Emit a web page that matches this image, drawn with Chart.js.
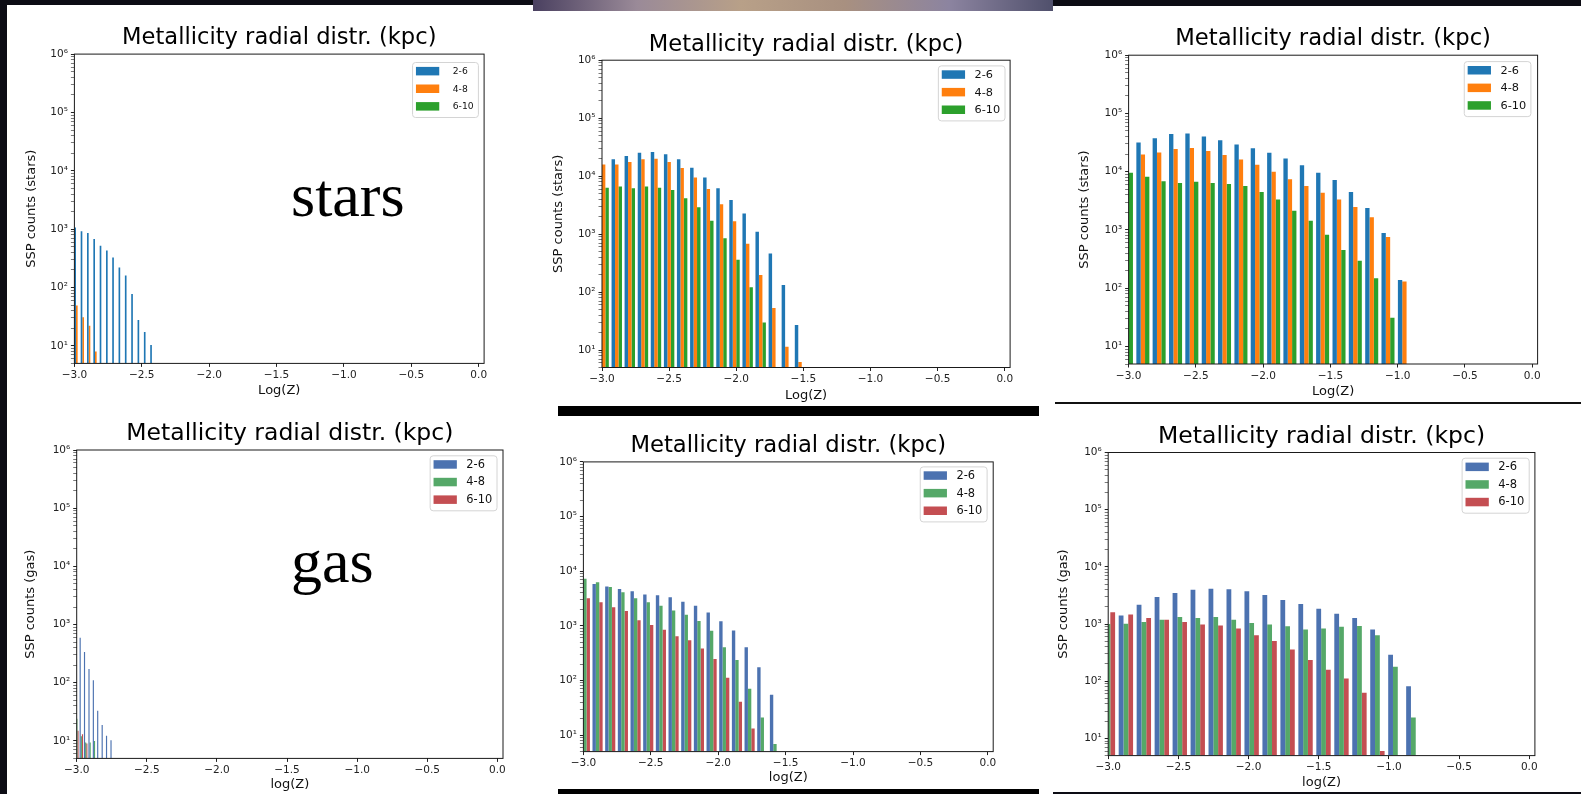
<!DOCTYPE html>
<html>
<head>
<meta charset="utf-8">
<script src="https://cdn.jsdelivr.net/npm/chart.js@4.4.1/dist/chart.umd.min.js"></script>
<style>
  html, body { margin: 0; padding: 0; }
  body { width: 1581px; height: 794px; position: relative; overflow: hidden; background: #0c0c14; }
  .sheet { position: absolute; background: #fff; }
  .band { position: absolute; background: #000; }
  canvas { position: absolute; }
  .tag { position: absolute; font-family: "Liberation Serif", serif; font-size: 62px; line-height: 62px; color: #000; }
</style>
</head>
<body>
<div class="sheet" style="left:7px;top:5px;width:526px;height:789px"></div>
<div class="sheet" style="left:533px;top:11px;width:520px;height:783px"></div>
<div class="sheet" style="left:1053px;top:6px;width:528px;height:786px"></div>
<div style="position:absolute;left:533px;top:0;width:520px;height:11px;background:linear-gradient(90deg,#4a4060,#9a8a98,#b8a088,#a89080,#8c84a0,#50506c)"></div>
<div class="band" style="left:558px;top:406px;width:481px;height:9.5px"></div>
<div class="band" style="left:558px;top:788.5px;width:481px;height:6px"></div>
<div class="band" style="left:1055px;top:401.5px;width:526px;height:2px;background:#111"></div>
<div class="tag" style="left:291px;top:164px">stars</div>
<div class="tag" style="left:291px;top:530px">gas</div>

<script>
// bin centres in log(Z) and SSP counts per radial ring (kpc)
// stars, left panel
const zStarsA = [-2.982, -2.935, -2.888, -2.841, -2.794, -2.747, -2.701, -2.654, -2.607, -2.560, -2.513, -2.466, -2.419];
const starsA26 = [1070, 917, 861, 677, 519, 430, 325, 221, 160, 77, 27.6, 17.3, 10.3];
const starsA48 = [49, 31, 22, 8, null, null, null, null, null, null, null, null, null];
const starsA610 = [null, null, null, null, null, null, null, null, null, null, null, null, null];

// stars, middle panel
const zStarsB = [-2.988, -2.890, -2.793, -2.695, -2.598, -2.500, -2.403, -2.305, -2.208, -2.110, -2.013, -1.915, -1.818, -1.720, -1.623, -1.525];
const starsB26 = [null, 19500, 22300, 25200, 26200, 23900, 19500, 13960, 9490, 6170, 3860, 2260, 1100, 465, 132, 27];
const starsB48 = [15800, 15900, 17500, 19500, 20000, 17500, 13800, 9490, 6000, 3290, 1660, 680, 198, 53, 11.4, 6.2];
const starsB610 = [6320, 6600, 6170, 6600, 6320, 5770, 4170, 2920, 1700, 850, 360, 121, 30, null, null, null];

// stars, right panel
const zStarsC = [-3.016, -2.894, -2.773, -2.651, -2.530, -2.408, -2.287, -2.165, -2.044, -1.922, -1.801, -1.679, -1.558, -1.436, -1.315, -1.193, -1.072, -0.950];
const starsC26 = [null, 31600, 37600, 44200, 45400, 40300, 34700, 29200, 25200, 21200, 16900, 12900, 9620, 7170, 4480, 2390, 887, 138];
const starsC48 = [null, 19800, 21400, 24500, 25500, 22600, 19300, 16200, 13100, 10000, 7450, 5700, 4370, 3340, 2480, 1660, 755, 131];
const starsC610 = [9620, 8190, 6870, 6430, 6700, 6430, 6170, 5700, 4480, 3340, 2140, 1440, 830, 454, 295, 148, 31, null];

// gas, left panel
const zGasA = [-2.999, -2.967, -2.936, -2.904, -2.873, -2.842, -2.810, -2.779, -2.747];
const gasA26 = [null, 590, 336, 172, 110, 33, 18.7, 12.2, 10.3];
const gasA48 = [24, 12, 9.4, 9.4, 10, null, null, null, null];
const gasA610 = [15, 13, 9, null, null, null, null, null, null];

// gas, middle panel
const zGasB = [-2.989, -2.895, -2.801, -2.707, -2.613, -2.519, -2.425, -2.331, -2.237, -2.143, -2.049, -1.955, -1.861, -1.767, -1.673, -1.579];
const gasB26 = [null, 5820, 5270, 4700, 4310, 3740, 3630, 3340, 2770, 2340, 1750, 1210, 824, 404, 174, 54.7];
const gasB48 = [7310, 6250, 5120, 4130, 3200, 2690, 2340, 1910, 1590, 1230, 813, 404, 238, 70.6, 21, 6.9];
const gasB610 = [3200, 2690, 2200, 1860, 1260, 1035, 848, 646, 545, 386, 248, 112, 41, 13.3, null, null];

// gas, right panel
const zGasC = [-3.002, -2.874, -2.746, -2.618, -2.490, -2.362, -2.234, -2.106, -1.978, -1.850, -1.722, -1.594, -1.466, -1.338, -1.210, -1.082, -0.954, -0.826];
const gasC26 = [null, 1406, 2170, 2970, 3500, 3960, 4120, 4070, 3750, 3230, 2630, 2230, 1850, 1510, 1280, 804, 290, 81.5];
const gasC48 = [1000, 1010, 1090, 1190, 1330, 1280, 1330, 1190, 1040, 986, 910, 804, 837, 898, 921, 638, 179, 23.3];
const gasC610 = [1610, 1470, 1280, 1190, 1090, 986, 947, 837, 638, 506, 360, 236, 159, 111, 63, 6.0, null, null];

const rings = ['2-6', '4-8', '6-10'];
const zTicks = [-3.0, -2.5, -2.0, -1.5, -1.0, -0.5, 0.0];
const countDecades = [1e1, 1e2, 1e3, 1e4, 1e5, 1e6];

const starColors = ['#1f77b4', '#ff7f0e', '#2ca02c'];
const gasColors = ['#4c72b0', '#55a868', '#c44e52'];
const FONT = "'DejaVu Sans', sans-serif";
const SUP = {1: '\u00b9', 2: '\u00b2', 3: '\u00b3', 4: '\u2074', 5: '\u2075', 6: '\u2076'};

const panels = [
  {box: [8, 5, 525, 400], plot: [74.4, 54.1, 484.1, 363.4], yGap: 42.4, xGap: 27.5, title: 22.6,
   xLabel: 'Log(Z)', yLabel: 'SSP counts (stars)', legend: {size: 9.2, gap: 13.5, dx: 5.7, dy: 8.4},
   bins: zStarsA, series: [starsA26, starsA48, starsA610], colors: starColors},
  {box: [533, 11, 520, 400], plot: [602.0, 60.2, 1010.1, 367.5], yGap: 43.3, xGap: 28.0, title: 22.6,
   xLabel: 'Log(Z)', yLabel: 'SSP counts (stars)', legend: {size: 11.3, gap: 9.5, dx: 5.1, dy: 5.7},
   bins: zStarsB, series: [starsB26, starsB48, starsB610], colors: starColors},
  {box: [1053, 6, 528, 400], plot: [1128.6, 55.2, 1537.6, 364.0], yGap: 43.7, xGap: 27.5, title: 22.7,
   xLabel: 'Log(Z)', yLabel: 'SSP counts (stars)', legend: {size: 11.3, gap: 9.5, dx: 6.7, dy: 6.4},
   bins: zStarsC, series: [starsC26, starsC48, starsC610], colors: starColors},
  {box: [7, 400, 526, 400], plot: [76.7, 450.0, 503.0, 758.4], yGap: 45.6, xGap: 26.5, title: 23.5,
   xLabel: 'log(Z)', yLabel: 'SSP counts (gas)', legend: {size: 11.4, gap: 9.5, dx: 6, dy: 5.8},
   bins: zGasA, series: [gasA26, gasA48, gasA610], colors: gasColors},
  {box: [533, 415, 520, 379], plot: [583.4, 461.9, 993.2, 751.6], yGap: 30, xGap: 26.0, title: 22.7,
   xLabel: 'log(Z)', yLabel: '', legend: {size: 11.4, gap: 9.5, dx: 6.1, dy: 5},
   bins: zGasB, series: [gasB26, gasB48, gasB610], colors: gasColors},
  {box: [1053, 403, 528, 400], plot: [1108.2, 452.5, 1534.9, 755.6], yGap: 44.7, xGap: 27.0, title: 23.5,
   xLabel: 'log(Z)', yLabel: 'SSP counts (gas)', legend: {size: 11.5, gap: 9.5, dx: 5.7, dy: 5.7},
   bins: zGasC, series: [gasC26, gasC48, gasC610], colors: gasColors}
];

function isDecade(v) {
  const e = Math.log10(v);
  return Math.abs(e - Math.round(e)) < 1e-9;
}

// log axis ticks: 10^n labelled, 2..9 x 10^n as minor marks
function countTicks() {
  const out = [];
  countDecades.forEach(d => {
    for (let m = 1; m <= 9; m++) {
      const v = m * d / 10;
      if (v >= 5) out.push({value: v});
    }
  });
  out.push({value: 1e6});
  return out;
}

// axes frame on all four sides, like matplotlib spines
const frame = {
  id: 'frame',
  afterDatasetsDraw(chart) {
    const a = chart.chartArea, ctx = chart.ctx;
    ctx.save();
    ctx.strokeStyle = '#1a1a1a';
    ctx.lineWidth = 1;
    ctx.strokeRect(a.left, a.top, a.right - a.left, a.bottom - a.top);
    ctx.restore();
  }
};

// legend box in the upper right corner of the axes
const boxLegend = {
  id: 'boxLegend',
  afterDraw(chart, args, opts) {
    const a = chart.chartArea, ctx = chart.ctx;
    const sets = chart.data.datasets;
    ctx.save();
    ctx.font = opts.size + 'px ' + FONT;
    const textW = Math.max(...sets.map(d => ctx.measureText(d.label).width));
    const w = 3.4 + 23.3 + opts.gap + textW + 4.8;
    const h = 55;
    const x = a.right - opts.dx - w, y = a.top + opts.dy;
    ctx.fillStyle = 'rgba(255,255,255,0.85)';
    ctx.strokeStyle = '#d4d4d4';
    ctx.lineWidth = 1;
    ctx.beginPath();
    ctx.roundRect(x, y, w, h, 3);
    ctx.fill();
    ctx.stroke();
    ctx.textBaseline = 'middle';
    sets.forEach((d, i) => {
      const cy = y + 8.6 + i * 17.6;
      ctx.fillStyle = d.backgroundColor;
      ctx.fillRect(x + 3.4, cy - 4.2, 23.3, 8.5);
      ctx.fillStyle = '#111';
      ctx.fillText(d.label, x + 3.4 + 23.3 + opts.gap, cy + 0.5);
    });
    ctx.restore();
  }
};

panels.forEach(p => {
  const [bx, by, bw, bh] = p.box;
  const [pl, pt, pr, pb] = p.plot;
  const c = document.createElement('canvas');
  c.width = bw;
  c.height = bh;
  c.style.left = bx + 'px';
  c.style.top = by + 'px';
  c.style.width = bw + 'px';
  c.style.height = bh + 'px';
  document.body.appendChild(c);

  const yW = p.yGap + 7.8;
  const xH = p.xGap + 7.8;
  const titleH = p.title * 1.2 + 2;

  new Chart(c, {
    type: 'bar',
    data: {
      datasets: p.series.map((vals, i) => ({
        label: rings[i],
        data: p.bins.map((z, k) => ({x: z, y: vals[k]})),
        backgroundColor: p.colors[i],
        borderWidth: 0,
        categoryPercentage: 0.8,
        barPercentage: 1.0,
        clip: 0
      }))
    },
    options: {
      responsive: false,
      animation: false,
      devicePixelRatio: 1,
      layout: {padding: {left: pl - bx - yW, right: bx + bw - pr, top: pt - by - titleH, bottom: by + bh - pb - xH}},
      plugins: {
        legend: {display: false},
        tooltip: {enabled: false},
        title: {
          display: true,
          text: 'Metallicity radial distr. (kpc)',
          fullSize: false,
          color: '#000',
          font: {family: FONT, size: p.title, weight: 'normal', lineHeight: 1.2},
          padding: {top: 0, bottom: 2}
        },
        boxLegend: p.legend
      },
      scales: {
        x: {
          type: 'linear',
          min: -3,
          max: 0.04,
          offset: false,
          afterFit: s => { s.height = xH; },
          afterBuildTicks: s => { s.ticks = zTicks.map(v => ({value: v})); },
          grid: {drawOnChartArea: false, drawTicks: true, tickLength: 3.5, tickColor: '#222', offset: false},
          border: {display: false},
          ticks: {
            autoSkip: false, maxRotation: 0, padding: 2, color: '#222',
            font: {family: FONT, size: 10.5},
            callback: v => v.toFixed(1).replace('-', '\u2212')
          },
          title: {display: true, text: p.xLabel, padding: 0, color: '#111', font: {family: FONT, size: 13, lineHeight: 1.2}}
        },
        y: {
          type: 'logarithmic',
          min: 5,
          max: 1e6,
          afterFit: s => { s.width = yW; },
          afterBuildTicks: s => { s.ticks = countTicks(); },
          grid: {
            drawOnChartArea: false, drawTicks: true, tickLength: 3.5, tickColor: '#222',
            tickWidth: ctx => (ctx.tick && isDecade(ctx.tick.value)) ? 1 : 0.6
          },
          border: {display: false},
          ticks: {
            autoSkip: false, padding: 3, color: '#222',
            font: {family: FONT, size: 10.5},
            callback: v => isDecade(v) ? '10' + SUP[Math.round(Math.log10(v))] : ''
          },
          title: {display: p.yLabel !== '', text: p.yLabel, padding: 0, color: '#111', font: {family: FONT, size: 13, lineHeight: 1.2}}
        }
      }
    },
    plugins: [frame, boxLegend]
  });
});
</script>
</body>
</html>
